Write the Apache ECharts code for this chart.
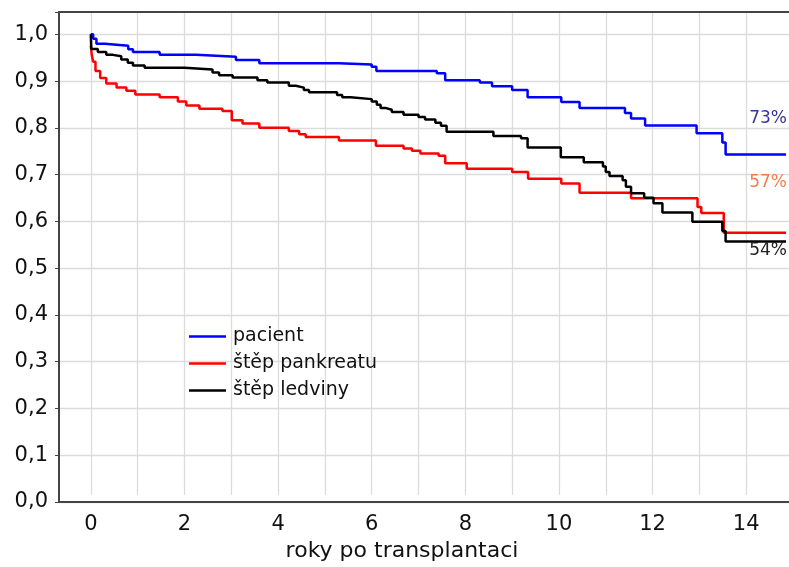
<!DOCTYPE html>
<html>
<head>
<meta charset="utf-8">
<script src="https://cdn.jsdelivr.net/npm/echarts@6/dist/echarts.min.js"></script>
<style>html,body{margin:0;padding:0;background:#fff}#c{width:789px;height:567px}</style>
</head>
<body>
<div id="c"></div>
<script>
// Kaplan-Meier survival (x = years after transplant, y = survival probability)
const seriesNames = ['pacient', 'štěp pankreatu', 'štěp ledviny'];

const pacientT = [0, 0.05, 0.12, 0.3, 0.8, 0.9, 1.47, 2.25, 3.1, 3.6, 5.3, 6.0, 6.1, 7.39, 7.57, 8.31, 8.57, 9.0, 9.33, 10.05, 10.44, 11.41, 11.54, 11.84, 12.94, 13.49, 13.56, 14.85];
const pacientS = [1.0, 0.99, 0.979, 0.975, 0.967, 0.961, 0.955, 0.951, 0.944, 0.937, 0.934, 0.929, 0.920, 0.915, 0.900, 0.895, 0.887, 0.879, 0.863, 0.853, 0.840, 0.829, 0.817, 0.802, 0.785, 0.765, 0.739, 0.739];

const pankreasT = [0, 0.02, 0.05, 0.1, 0.2, 0.33, 0.55, 0.76, 0.95, 1.47, 1.86, 2.04, 2.32, 2.81, 3.01, 3.24, 3.6, 4.23, 4.45, 4.59, 5.3, 6.09, 6.68, 6.86, 7.04, 7.43, 7.57, 8.03, 9.0, 9.34, 10.05, 10.44, 11.54, 12.96, 13.04, 13.52, 14.85];
const pankreasS = [0.975, 0.955, 0.94, 0.92, 0.905, 0.893, 0.884, 0.877, 0.869, 0.863, 0.854, 0.845, 0.838, 0.833, 0.813, 0.806, 0.797, 0.790, 0.783, 0.777, 0.769, 0.758, 0.752, 0.747, 0.741, 0.736, 0.720, 0.708, 0.701, 0.686, 0.676, 0.656, 0.644, 0.625, 0.612, 0.569, 0.569];

const ledvinyT = [0, 0.01, 0.15, 0.33, 0.47, 0.65, 0.79, 0.9, 1.15, 2.0, 2.6, 2.74, 3.03, 3.56, 3.77, 4.23, 4.38, 4.55, 4.66, 5.26, 5.37, 5.55, 6.0, 6.11, 6.19, 6.29, 6.43, 6.68, 7.0, 7.14, 7.36, 7.48, 7.6, 8.6, 9.19, 9.33, 10.04, 10.53, 10.94, 11.0, 11.08, 11.36, 11.43, 11.54, 11.82, 12.02, 12.21, 12.85, 13.49, 13.56, 14.85];
const ledvinyS = [1.0, 0.968, 0.961, 0.955, 0.952, 0.945, 0.938, 0.932, 0.927, 0.923, 0.917, 0.911, 0.906, 0.900, 0.895, 0.888, 0.884, 0.879, 0.874, 0.868, 0.863, 0.859, 0.854, 0.847, 0.840, 0.836, 0.831, 0.825, 0.820, 0.815, 0.808, 0.801, 0.788, 0.779, 0.774, 0.754, 0.733, 0.722, 0.713, 0.701, 0.692, 0.683, 0.669, 0.655, 0.645, 0.633, 0.613, 0.593, 0.573, 0.550, 0.550];

const endLabels = ['73%', '57%', '54%'];
const xTicks = [0, 2, 4, 6, 8, 10, 12, 14];
const xAxisName = 'roky po transplantaci';

const colors = ['#0000ff', '#ff0000', '#000000'];
const labelColors = ['#35359a', '#f47c4c', '#222222'];
const labelOffsetY = [-36, -50, 9];
const FONT = 'DejaVu Sans';

function pairs(t, s) { return t.map((v, i) => [v, s[i]]); }
const allData = [pairs(pacientT, pacientS), pairs(pankreasT, pankreasS), pairs(ledvinyT, ledvinyS)];

const chart = echarts.init(document.getElementById('c'), null, { renderer: 'canvas' });

const X_MAX = 14.85;
const gridTop = 12, gridBottom = 65;
const axisColor = '#444';
const gridColor = '#dcdcdc';

const option = {
  animation: false,
  backgroundColor: '#ffffff',
  textStyle: { fontFamily: FONT },
  grid: [
    // frame grid (axis lines, y axis)
    { left: 59, top: gridTop, right: 0, bottom: gridBottom, containLabel: false },
    // data grid: x scale starting at -1 so integer ticks line up
    { left: 44, top: gridTop, right: 0, bottom: gridBottom, containLabel: false }
  ],
  legend: {
    orient: 'vertical',
    left: 184,
    top: 322,
    itemWidth: 37,
    itemHeight: 10,
    itemGap: 8,
    icon: 'path://M0,3.75 L37,3.75 L37,6.25 L0,6.25 Z',
    textStyle: { fontFamily: FONT, fontSize: 19, color: '#111', padding: [0, 0, 0, 2] },
    data: seriesNames
  },
  xAxis: [{
    gridIndex: 0,
    type: 'value',
    min: -0.68,
    max: X_MAX,
    axisLine: { show: true, onZero: false, lineStyle: { color: axisColor, width: 2 } },
    axisTick: { show: false },
    splitLine: { show: false },
    axisLabel: { show: false }
  }, {
    gridIndex: 0,
    type: 'value',
    position: 'top',
    min: -0.68,
    max: X_MAX,
    axisLine: { show: true, onZero: false, lineStyle: { color: axisColor, width: 2 } },
    axisTick: { show: false },
    axisLabel: { show: false },
    splitLine: { show: false }
  }, {
    gridIndex: 1,
    type: 'value',
    min: -1,
    max: X_MAX,
    interval: 1,
    axisLine: { show: false, onZero: false },
    axisTick: { show: false },
    splitLine: { show: true, showMinLine: false, showMaxLine: false, lineStyle: { color: gridColor, width: 1.3 } },
    axisLabel: {
      margin: 19,
      showMinLabel: false,
      fontFamily: FONT, fontSize: 21, color: '#111',
      formatter: v => (xTicks.indexOf(v) >= 0 ? String(v) : '')
    },
    name: xAxisName,
    nameLocation: 'middle',
    nameGap: 43,
    nameTextStyle: { fontFamily: FONT, fontSize: 22, color: '#111', padding: [0, 26, 0, 0] }
  }],
  yAxis: [{
    gridIndex: 0,
    type: 'value',
    min: 0,
    max: 1.048,
    interval: 0.1,
    axisLine: { show: true, onZero: false, lineStyle: { color: axisColor, width: 2 } },
    axisTick: { show: true, inside: false, length: 4, lineStyle: { color: axisColor } },
    splitLine: { show: true, showMaxLine: false, lineStyle: { color: gridColor, width: 1.3 } },
    axisLabel: {
      margin: 11,
      fontFamily: FONT, fontSize: 21, color: '#111',
      formatter: v => (v <= 1.0001 ? v.toFixed(1).replace('.', ',') : '')
    }
  }, {
    gridIndex: 1,
    type: 'value',
    min: 0,
    max: 1.048,
    show: false
  }],
  series: seriesNames.map((n, i) => ({
    name: n,
    type: 'line',
    xAxisIndex: 2,
    yAxisIndex: 1,
    step: 'end',
    symbol: 'none',
    data: allData[i],
    color: colors[i],
    lineStyle: { color: colors[i], width: 2.5 },
    endLabel: {
      show: true,
      formatter: endLabels[i],
      fontFamily: FONT,
      fontSize: 17,
      color: labelColors[i],
      align: 'right',
      offset: [1, labelOffsetY[i]],
      distance: 0
    },
    z: 3 + i
  }))
};
chart.setOption(option);
</script>
</body>
</html>
